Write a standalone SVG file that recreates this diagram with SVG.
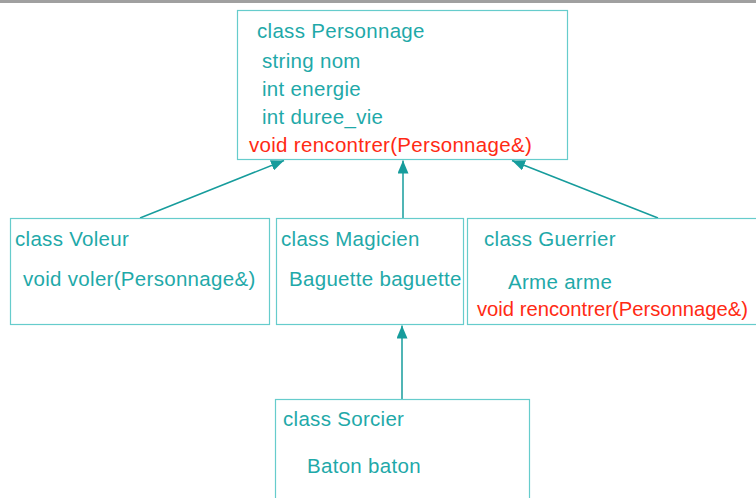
<svg xmlns="http://www.w3.org/2000/svg" width="756" height="498" viewBox="0 0 756 498">
<style>
.box{fill:#ffffff;stroke:#66cccc;stroke-width:1.2}
.t{font-family:"Liberation Sans",Arial,Helvetica,sans-serif;font-size:20.5px;letter-spacing:0.3px;fill:#1fa9a9}
.r{fill:#ff2a14}
.c{stroke:#169c9c;stroke-width:1.5;fill:none;marker-end:url(#ah)}
</style>
<defs>
<marker id="ah" viewBox="0 0 13 11" refX="13" refY="5.5" markerWidth="13" markerHeight="11" markerUnits="userSpaceOnUse" orient="auto">
<path d="M0,0 L13,5.5 L0,11 Z" fill="#169c9c"/>
</marker>
</defs>
<rect x="0" y="0" width="756" height="3" fill="#a0a0a0"/>
<g id="connectors">
<line class="c" x1="140" y1="218" x2="284" y2="160.5"/>
<line class="c" x1="403" y1="218" x2="403" y2="160.5"/>
<line class="c" x1="658" y1="218" x2="512" y2="160.5"/>
<line class="c" x1="402" y1="399" x2="402" y2="325.5"/>
</g>
<g id="personnage">
<rect class="box" x="237.5" y="10.5" width="330" height="149"/>
<text class="t" x="257" y="38">class Personnage</text>
<text class="t" x="262" y="68">string nom</text>
<text class="t" x="262" y="96">int energie</text>
<text class="t" x="262" y="124">int duree_vie</text>
<text class="t r" x="249" y="152">void rencontrer(Personnage&amp;)</text>
</g>
<g id="voleur">
<rect class="box" x="10.5" y="218.5" width="259" height="106"/>
<text class="t" x="15" y="246">class Voleur</text>
<text class="t" x="23" y="286">void voler(Personnage&amp;)</text>
</g>
<g id="magicien">
<rect class="box" x="276.5" y="218.5" width="187" height="106"/>
<text class="t" x="281" y="246">class Magicien</text>
<text class="t" x="289" y="286">Baguette baguette</text>
</g>
<g id="guerrier">
<rect class="box" x="467.5" y="218.5" width="300" height="106"/>
<text class="t" x="484" y="246">class Guerrier</text>
<text class="t" x="508" y="289">Arme arme</text>
<text class="t r" x="477" y="316" textLength="271" lengthAdjust="spacingAndGlyphs" style="letter-spacing:0">void rencontrer(Personnage&amp;)</text>
</g>
<g id="sorcier">
<rect class="box" x="275.5" y="399.5" width="254" height="110"/>
<text class="t" x="283" y="426">class Sorcier</text>
<text class="t" x="307" y="473">Baton baton</text>
</g>
</svg>
